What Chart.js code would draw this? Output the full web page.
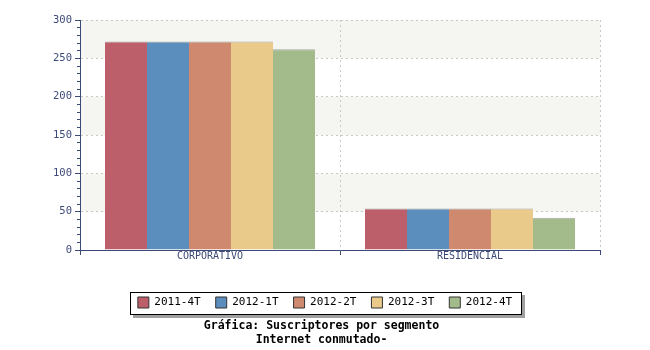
<!DOCTYPE html>
<html><head><meta charset="utf-8">
<script src="https://cdn.jsdelivr.net/npm/chart.js@4"></script>
<style>html,body{margin:0;padding:0;background:#fff}</style>
</head><body>
<canvas id="c" width="650" height="350"></canvas>
<script>
const categories = ['CORPORATIVO', 'RESIDENCIAL'];
const seriesNames = ['2011-4T', '2012-1T', '2012-2T', '2012-3T', '2012-4T'];
const s2011_4T = [272, 54];
const s2012_1T = [272, 54];
const s2012_2T = [272, 54];
const s2012_3T = [272, 54];
const s2012_4T = [262, 42];
const seriesValues = [s2011_4T, s2012_1T, s2012_2T, s2012_3T, s2012_4T];
const seriesColors = ['#bd5f6a', '#5b8dbd', '#ce896e', '#e9ca8b', '#a3bb8b'];
const yMax = 300;
const titleLines = ['Gráfica: Suscriptores por segmento ', 'Internet conmutado- '];

const FONT = 'DejaVu Sans Mono';
const AXIS = '#3d4a78';
const GRID = '#c8c8c8';

const decor = {
  id: 'decor',
  beforeDraw(chart) {
    const {ctx, chartArea: a, scales: {y}} = chart;
    ctx.save();
    ctx.fillStyle = '#f5f5f1';
    for (let v = 50; v < yMax; v += 100) {
      const t = y.getPixelForValue(v + 50), b = y.getPixelForValue(v);
      ctx.fillRect(a.left, t, a.right - a.left, b - t);
    }
    const hb = chart.legend && chart.legend.legendHitBoxes;
    if (hb && hb.length) {
      const last = hb[hb.length - 1];
      const l = Math.round(hb[0].left - 8), r = Math.round(last.left + last.width + 9);
      const t = Math.round(hb[0].top - 5), bt = Math.round(hb[0].top + 11 + 6);
      ctx.fillStyle = '#a0a0a0';
      ctx.fillRect(l + 3, t + 3, r - l + 1, bt - t + 1);
      ctx.fillStyle = '#fff';
      ctx.fillRect(l, t, r - l, bt - t);
      ctx.strokeStyle = '#000';
      ctx.lineWidth = 1;
      ctx.strokeRect(l + 0.5, t + 0.5, r - l, bt - t);
    }
    ctx.restore();
  }
};

new Chart(document.getElementById('c'), {
  type: 'bar',
  data: {
    labels: categories,
    datasets: seriesNames.map((n, i) => ({
      label: n,
      data: seriesValues[i],
      backgroundColor: seriesColors[i],
      borderColor: 'rgba(110,110,110,0.6)',
      borderWidth: {top: 1, left: 0, right: 0, bottom: 0},
      borderSkipped: 'start',
      categoryPercentage: 0.8077,
      barPercentage: 1.0
    }))
  },
  options: {
    responsive: false,
    animation: false,
    devicePixelRatio: 1,
    layout: {padding: {top: 20, left: 0, right: 0, bottom: 0}},
    plugins: {
      tooltip: {enabled: false},
      legend: {
        position: 'bottom',
        labels: {
          boxWidth: 11, boxHeight: 11, padding: 15, color: '#000',
          font: {family: FONT, size: 11},
          generateLabels(chart) {
            return chart.data.datasets.map((d, i) => ({
              text: d.label, fillStyle: d.backgroundColor, strokeStyle: '#333',
              lineWidth: 1, hidden: false, datasetIndex: i, fontColor: '#000'
            }));
          }
        }
      },
      title: {
        display: true, position: 'bottom', text: titleLines, color: '#000',
        font: {family: FONT, size: 11.5, weight: 'bold', lineHeight: 14 / 11.5},
        padding: {top: 1, bottom: 3}
      }
    },
    scales: {
      x: {
        grid: {color: GRID, tickColor: AXIS, tickLength: 5, offset: true},
        border: {display: true, color: AXIS, width: 1, dash: [2, 3]},
        ticks: {color: AXIS, font: {family: FONT, size: 10}, padding: -5},
        afterFit(s) { s.height = 32; }
      },
      y: {
        min: 0, max: yMax,
        grid: {color: GRID, tickColor: AXIS, tickLength: 5},
        border: {display: true, color: AXIS, width: 1, dash: [2, 3]},
        ticks: {stepSize: 50, color: AXIS, font: {family: FONT, size: 10.5}, padding: 3},
        afterFit(s) { s.width = 80; }
      },
      yMinor: {
        position: 'left', weight: -1, min: 0, max: yMax,
        grid: {drawOnChartArea: false, tickColor: AXIS, tickLength: 3},
        border: {display: false},
        ticks: {stepSize: 10, display: false, autoSkip: false},
        afterFit(s) { s.width = 0; }
      },
      yR: {
        position: 'right', min: 0, max: yMax,
        grid: {display: false},
        border: {display: false},
        ticks: {display: false},
        afterFit(s) { s.width = 50; }
      }
    }
  },
  plugins: [decor]
});
</script>
</body></html>
